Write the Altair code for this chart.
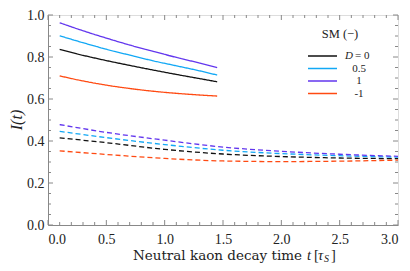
import altair as alt
import pandas as pd

# ---- data ----
series = ["D = 0", "0.5", "1", "-1"]
colors = ["#111111", "#12a8f5", "#6236ee", "#ff4a12"]

t_solid = [0.1, 0.3, 0.5, 0.7, 0.9, 1.1, 1.3, 1.45]
solid_D0 = [0.836, 0.808, 0.783, 0.760, 0.738, 0.717, 0.697, 0.682]
solid_D05 = [0.901, 0.868, 0.837, 0.809, 0.782, 0.758, 0.734, 0.714]
solid_D1 = [0.963, 0.925, 0.890, 0.857, 0.827, 0.798, 0.771, 0.749]
solid_Dm1 = [0.710, 0.686, 0.666, 0.650, 0.637, 0.627, 0.619, 0.614]

t_dashed = [0.1, 0.5, 1.0, 1.5, 2.0, 2.5, 3.0]
dashed_D0 = [0.415, 0.392, 0.360, 0.338, 0.326, 0.319, 0.316]
dashed_D05 = [0.446, 0.416, 0.383, 0.356, 0.340, 0.330, 0.323]
dashed_D1 = [0.478, 0.441, 0.404, 0.371, 0.351, 0.337, 0.327]
dashed_Dm1 = [0.353, 0.336, 0.317, 0.305, 0.302, 0.304, 0.309]

x_major = [0.0, 0.5, 1.0, 1.5, 2.0, 2.5, 3.0]
x_minor = [0.1, 0.2, 0.3, 0.4, 0.6, 0.7, 0.8, 0.9, 1.1, 1.2, 1.3, 1.4, 1.6, 1.7,
           1.8, 1.9, 2.1, 2.2, 2.3, 2.4, 2.6, 2.7, 2.8, 2.9]
y_major = [0.0, 0.2, 0.4, 0.6, 0.8, 1.0]
y_minor = [0.05, 0.1, 0.15, 0.25, 0.3, 0.35, 0.45, 0.5, 0.55, 0.65, 0.7, 0.75,
           0.85, 0.9, 0.95]

# ---- build tables ----
rows = []
solids = [solid_D0, solid_D05, solid_D1, solid_Dm1]
dasheds = [dashed_D0, dashed_D05, dashed_D1, dashed_Dm1]
for s, vals in zip(series, solids):
    for t, v in zip(t_solid, vals):
        rows.append({"t": t, "I": v, "series": s, "style": "solid", "grp": s + "_s"})
for s, vals in zip(series, dasheds):
    for t, v in zip(t_dashed, vals):
        rows.append({"t": t, "I": v, "series": s, "style": "dashed", "grp": s + "_d"})
df = pd.DataFrame(rows)

W, H = 350, 210
FONT = "Liberation Serif"
TFONT = "DejaVu Serif"
GRAY = "#888888"

xs = alt.Scale(domain=[0, 3], nice=False, zero=False)
ys = alt.Scale(domain=[0, 1], nice=False, zero=False)
xaxis = alt.Axis(values=x_major, format=".1f", ticks=False, grid=False, title=None,
                 domainColor=GRAY, labelFont=FONT, labelFontSize=14,
                 labelColor="#222", labelPadding=7)
yaxis = alt.Axis(values=y_major, format=".1f", ticks=False, grid=False, title=None,
                 domainColor=GRAY, labelFont=FONT, labelFontSize=14,
                 labelColor="#222", labelPadding=4)

lines = alt.Chart(df).mark_line(strokeWidth=1.3, interpolate="monotone").encode(
    x=alt.X("t:Q", scale=xs, title=None, axis=xaxis),
    y=alt.Y("I:Q", scale=ys, title=None, axis=yaxis),
    color=alt.Color("series:N", scale=alt.Scale(domain=series, range=colors), legend=None),
    strokeDash=alt.StrokeDash("style:N", scale=alt.Scale(domain=["solid", "dashed"],
                                                         range=[[1, 0], [5, 3]]), legend=None),
    detail="grp:N",
)

def xticks(vals, length):
    d = pd.DataFrame({"v": vals})
    bottom = alt.Chart(d).mark_rule(color=GRAY, strokeWidth=1).encode(
        x=alt.X("v:Q", scale=xs, title=None, axis=xaxis), y=alt.value(H), y2=alt.value(H - length))
    top = alt.Chart(d).mark_rule(color=GRAY, strokeWidth=1).encode(
        x=alt.X("v:Q", scale=xs, title=None, axis=xaxis), y=alt.value(0), y2=alt.value(length))
    return [bottom, top]

def yticks(vals, length):
    d = pd.DataFrame({"v": vals})
    left = alt.Chart(d).mark_rule(color=GRAY, strokeWidth=1).encode(
        y=alt.Y("v:Q", scale=ys, title=None, axis=yaxis), x=alt.value(0), x2=alt.value(length))
    right = alt.Chart(d).mark_rule(color=GRAY, strokeWidth=1).encode(
        y=alt.Y("v:Q", scale=ys, title=None, axis=yaxis), x=alt.value(W), x2=alt.value(W - length))
    return [left, right]

tick_layers = xticks(x_major, 5) + xticks(x_minor, 3) + yticks(y_major, 5) + yticks(y_minor, 3)

# ---- legend (manual) ----
leg_layers = []
one = pd.DataFrame({"a": [0]})
leg_y0, leg_step = 41, 12.5
for i, (s, c) in enumerate(zip(series, colors)):
    yy = leg_y0 + i * leg_step
    leg_layers.append(alt.Chart(one).mark_rule(color=c, strokeWidth=1.5).encode(
        x=alt.value(260), x2=alt.value(289), y=alt.value(yy)))
    if s.startswith("D"):
        leg_layers.append(alt.Chart(one).mark_text(
            text="D", font=FONT, fontSize=11, fontStyle="italic", align="left",
            baseline="middle", color="#222").encode(x=alt.value(297), y=alt.value(yy)))
        leg_layers.append(alt.Chart(one).mark_text(
            text=s[1:].strip(), font=FONT, fontSize=11, align="left",
            baseline="middle", color="#222").encode(x=alt.value(307), y=alt.value(yy)))
    else:
        leg_layers.append(alt.Chart(one).mark_text(
            text=s, font=FONT, fontSize=11, align="center",
            baseline="middle", color="#222").encode(x=alt.value(311), y=alt.value(yy)))
leg_layers.append(alt.Chart(one).mark_text(
    text="SM (\u2212)", font=FONT, fontSize=12.5, align="center", baseline="middle",
    color="#222").encode(x=alt.value(292), y=alt.value(19)))

# ---- axis titles (manual, mixed styles) ----
tb = 245
title_layers = [
    alt.Chart(one).mark_text(text="Neutral kaon decay time", font=TFONT, fontSize=13.5,
                             fontWeight=300, align="right", baseline="alphabetic",
                             color="#222").encode(x=alt.value(254), y=alt.value(tb)),
    alt.Chart(one).mark_text(text="t", font=FONT, fontSize=14.5, fontStyle="italic",
                             align="left", baseline="alphabetic", color="#222").encode(
        x=alt.value(259), y=alt.value(tb)),
    alt.Chart(one).mark_text(text="[", font=FONT, fontSize=14.5,
                             align="left", baseline="alphabetic", color="#222").encode(
        x=alt.value(266), y=alt.value(tb)),
    alt.Chart(one).mark_text(text="\u03c4", font=FONT, fontSize=14.5, fontStyle="italic",
                             align="left", baseline="alphabetic", color="#222").encode(
        x=alt.value(270), y=alt.value(tb)),
    alt.Chart(one).mark_text(text="S", font=FONT, fontSize=10, fontStyle="italic",
                             align="left", baseline="alphabetic", color="#222").encode(
        x=alt.value(276), y=alt.value(tb + 2)),
    alt.Chart(one).mark_text(text="]", font=FONT, fontSize=14.5,
                             align="left", baseline="alphabetic", color="#222").encode(
        x=alt.value(283), y=alt.value(tb)),
    alt.Chart(one).mark_text(text="I(t)", font=FONT, fontSize=16, fontStyle="italic",
                             align="center", baseline="middle", angle=270,
                             color="#222").encode(x=alt.value(-31), y=alt.value(H / 2)),
]

chart = alt.layer(lines, *tick_layers, *leg_layers, *title_layers).properties(
    width=W, height=H,
    autosize=alt.AutoSizeParams(type="none"),
    padding={"left": 40, "top": 7, "right": 4, "bottom": 38},
).configure_view(stroke=GRAY, strokeWidth=1).configure(background="white")

chart.save("out.html", embed_options={"renderer": "svg", "actions": False})
